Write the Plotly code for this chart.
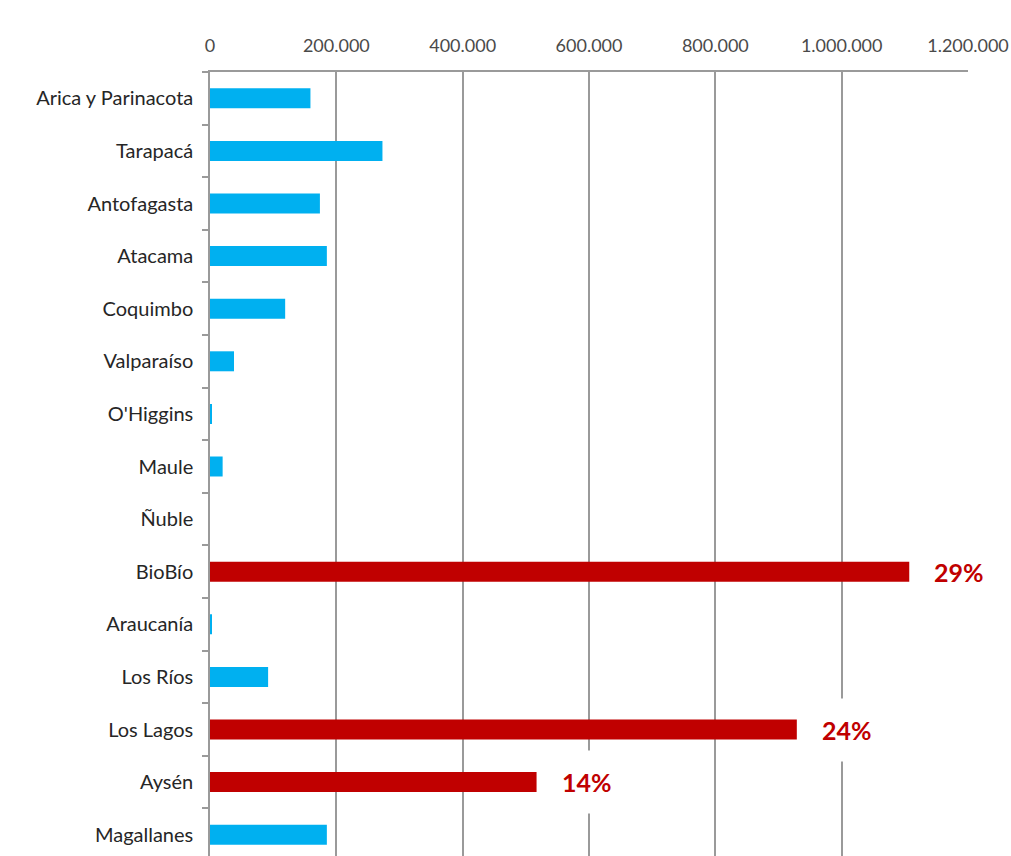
import plotly.graph_objects as go

regiones = ['Arica y Parinacota', 'Tarapacá', 'Antofagasta', 'Atacama', 'Coquimbo',
            'Valparaíso', "O'Higgins", 'Maule', 'Ñuble', 'BioBío', 'Araucanía',
            'Los Ríos', 'Los Lagos', 'Aysén', 'Magallanes']
valores = [159000, 273000, 174000, 185000, 119000,
           38000, 2500, 20000, 0, 1107000, 2500,
           92000, 929000, 517000, 185000]
destacadas = {'BioBío': '29%', 'Los Lagos': '24%', 'Aysén': '14%'}

ticks_x = [0, 200000, 400000, 600000, 800000, 1000000, 1200000]
ticks_txt = ['0', '200.000', '400.000', '600.000', '800.000', '1.000.000', '1.200.000']

azul = '#00B0F0'
rojo = '#C00000'
colores = [rojo if r in destacadas else azul for r in regiones]

fig = go.Figure()
fig.add_trace(go.Bar(x=valores, y=regiones, orientation='h',
                     marker=dict(color=colores, line=dict(width=0)),
                     width=0.38, showlegend=False, hoverinfo='skip'))

for reg, pct in destacadas.items():
    fig.add_annotation(x=valores[regiones.index(reg)], y=reg, text='<b>' + pct + '</b>',
                       xanchor='left', xshift=8, showarrow=False,
                       font=dict(family='Lato', size=25, color=rojo),
                       bgcolor='white', borderpad=16)

fig.update_xaxes(side='top', range=[0, 1200000], tickvals=ticks_x, ticktext=ticks_txt,
                 showgrid=True, gridcolor='#9a9a9a', gridwidth=1.5,
                 showline=True, linecolor='#9a9a9a', linewidth=1.5,
                 ticks='', ticklabelstandoff=11, automargin=False, ticklabeloverflow='allow',
                 tickfont=dict(family='Lato', size=18, color='#4a4a4a'), zeroline=False)
fig.update_yaxes(range=[14.405, -0.5], showline=True, linecolor='#9a9a9a', linewidth=1.5,
                 ticks='outside', ticklen=6, tickcolor='#9a9a9a', tickwidth=1.5,
                 tickson='boundaries', showgrid=False, ticklabelstandoff=11, automargin=False,
                 tickfont=dict(family='Lato', size=20, color='#262626'))
fig.update_layout(width=1011, height=856, plot_bgcolor='white', paper_bgcolor='white',
                  margin=dict(l=210, r=43, t=72, b=0))
# quitar el margen por defecto del body para que la figura llene la ventana
fig.write_html('out.html', config={'displayModeBar': False},
               post_script="document.body.style.margin='0';document.body.style.overflow='hidden';")
